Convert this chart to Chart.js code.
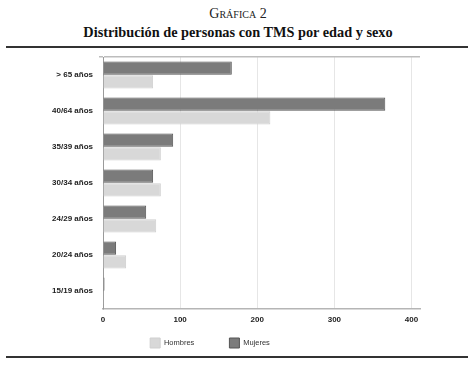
<!DOCTYPE html>
<html><head><meta charset="utf-8">
<script src="https://cdn.jsdelivr.net/npm/chart.js@4/dist/chart.umd.min.js"></script>
<style>
html,body{margin:0;padding:0;background:#fff;}
#wrap{position:relative;width:476px;height:368px;overflow:hidden;}
#c{position:absolute;left:0;top:0;}
.t1{position:absolute;left:0;width:476px;top:6px;text-align:center;font-family:"Liberation Serif",serif;font-size:14px;font-variant:small-caps;color:#222;}
.t2{position:absolute;left:0;width:476px;top:24px;text-align:center;font-family:"Liberation Serif",serif;font-weight:bold;font-size:14.3px;color:#111;}
.rule{position:absolute;left:6px;width:462px;height:2px;background:#333;}
</style></head>
<body><div id="wrap">
<div class="t1">Gráfica 2</div>
<div class="t2">Distribución de personas con TMS por edad y sexo</div>
<div class="rule" style="top:46px"></div>
<canvas id="c" width="476" height="368"></canvas>
<div class="rule" style="top:356px"></div>
</div>
<script>
const categories = ["> 65 años","40/64 años","35/39 años","30/34 años","24/29 años","20/24 años","15/19 años"];
const mujeres = [167, 366, 91, 65, 56, 17, 2];
const hombres = [65, 217, 75, 75, 69, 30, 1];
const xTicks = [0, 100, 200, 300, 400];

new Chart(document.getElementById('c'), {
  type: 'bar',
  data: {
    labels: categories,
    datasets: [
      {label: 'Mujeres', data: mujeres, backgroundColor: '#7b7b7b', borderColor: '#555', borderWidth: 1, categoryPercentage: 0.76, barPercentage: 0.98},
      {label: 'Hombres', data: hombres, backgroundColor: '#d8d8d8', borderColor: '#cfcfcf', borderWidth: 1, categoryPercentage: 0.76, barPercentage: 0.98}
    ]
  },
  options: {
    indexAxis: 'y',
    responsive: false,
    animation: false,
    layout: {padding: {top: 57, right: 56, bottom: 10, left: 0}},
    plugins: {
      legend: {
        position: 'bottom',
        reverse: true,
        labels: {
          boxWidth: 10, boxHeight: 10, padding: 8, color: '#333',
          font: {family: 'Liberation Sans', size: 7.5},
          generateLabels: chart => {
            const items = Chart.defaults.plugins.legend.labels.generateLabels(chart);
            items.forEach(it => { if (it.text === 'Hombres') it.text = 'Hombres' + '\u00a0'.repeat(13); });
            return items;
          }
        }
      },
      tooltip: {enabled: false}
    },
    scales: {
      x: {
        min: 0, max: 411,
        afterBuildTicks: s => { s.ticks = xTicks.map(v => ({value: v})); },
        grid: {color: ctx => ctx.tick && ctx.tick.value === 0 ? 'transparent' : '#e6e6e6', drawTicks: false},
        border: {color: '#b5b5b5', width: 1.5},
        ticks: {padding: 6, color: '#222', font: {family: 'Liberation Sans', size: 8, weight: 'bold', lineHeight: 1.125}}
      },
      y: {
        afterFit: s => { s.width = 103; },
        grid: {offset: true, color: ctx => ctx.index === 0 ? '#bdbdbd' : 'transparent', lineWidth: 1.5, tickLength: 4},
        border: {color: '#9a9a9a', width: 1},
        ticks: {padding: 6, color: '#222', font: {family: 'Liberation Sans', size: 8, weight: 'bold'}}
      }
    }
  }
});
</script>
</body></html>
